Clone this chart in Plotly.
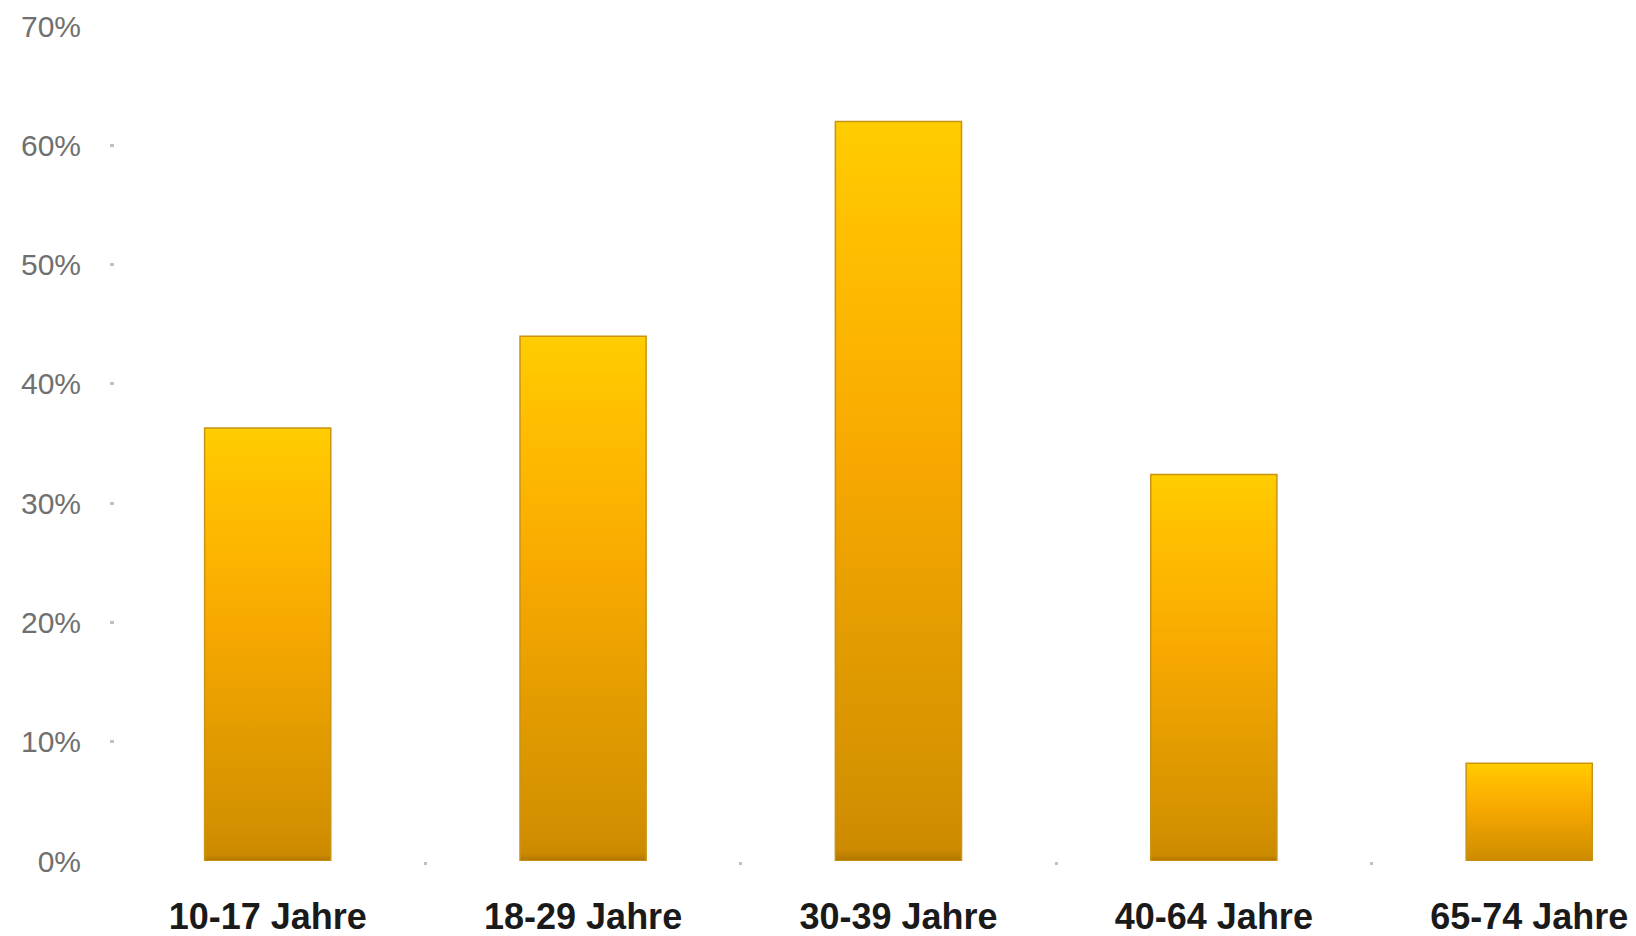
import plotly.graph_objects as go

categories = ["10-17 Jahre", "18-29 Jahre", "30-39 Jahre", "40-64 Jahre", "65-74 Jahre"]
values = [36.3, 44.0, 62.0, 32.4, 8.2]
y_ticks = [0, 10, 20, 30, 40, 50, 60, 70]
y_ticktext = [f"{v}%" for v in y_ticks]

bar_width = 0.40
grad = [[0.0, "#B07600"], [0.015, "#CC8A00"], [0.08, "#D49000"], [0.3, "#E39C00"], [0.55, "#F8A900"], [0.85, "#FFBF00"], [1.0, "#FFCD00"]]

fig = go.Figure()
for i, (cat, v) in enumerate(zip(categories, values)):
    x0, x1 = i - bar_width / 2, i + bar_width / 2
    fig.add_trace(go.Scatter(
        x=[x0, x1, x1, x0, x0],
        y=[0, 0, v, v, 0],
        mode="lines", fill="toself",
        fillgradient=dict(type="vertical", colorscale=grad),
        line=dict(color="#C99414", width=1.5),
        name=cat, hoverinfo="skip", showlegend=False))

fig.update_layout(
    width=1636, height=936,
    margin=dict(l=102, r=0, t=18, b=83),
    paper_bgcolor="white", plot_bgcolor="white",
    showlegend=False,
    xaxis=dict(
        range=[-0.5, 4.364], tickvals=list(range(len(categories))), ticktext=categories,
        showgrid=False, zeroline=False, showline=False, ticks="",
        tickfont=dict(family="Liberation Sans, Arial, sans-serif", size=36, color="#1a1a1a", weight="bold"),
        ticklabelstandoff=31,
        minor=dict(tickvals=[0.5, 1.5, 2.5, 3.5], ticks="outside", ticklen=3, tickwidth=3, tickcolor="#c0c0c0"),
    ),
    yaxis=dict(
        range=[0, 70], tickvals=y_ticks, ticktext=y_ticktext,
        showgrid=False, zeroline=False, showline=False,
        ticks="inside", ticklen=4, tickwidth=3, tickcolor="#c0c0c0",
        tickfont=dict(family="Liberation Sans, Arial, sans-serif", size=30, color="#707070"),
        ticklabelstandoff=28,
    ),
)

fig.write_html("out.html")
